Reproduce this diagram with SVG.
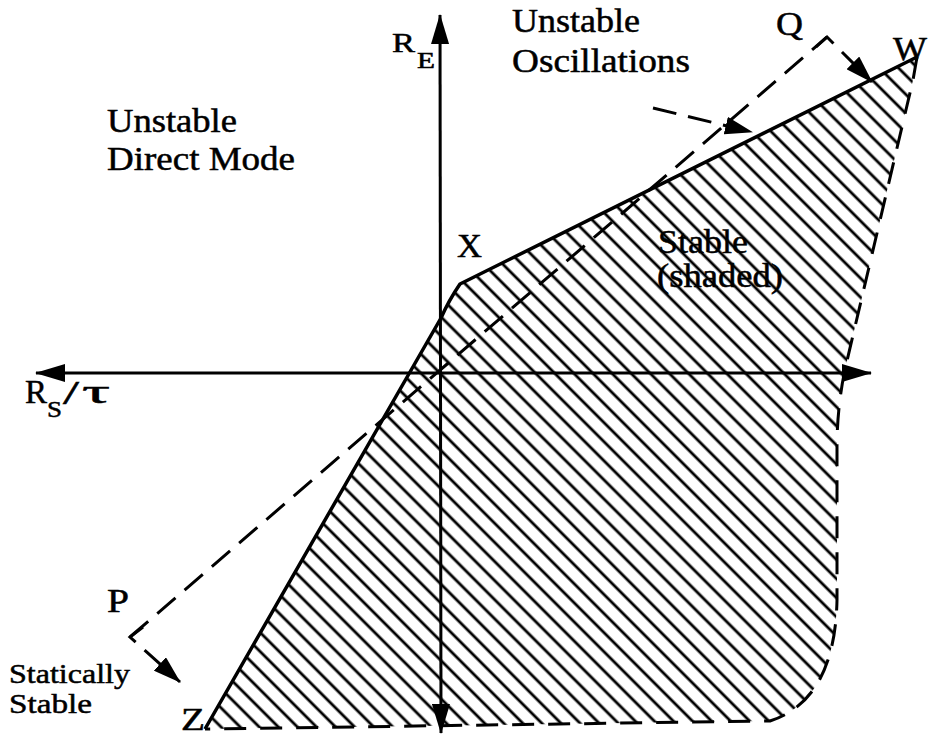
<svg xmlns="http://www.w3.org/2000/svg" width="928" height="736" viewBox="0 0 928 736">
<style>
text{font-family:"Liberation Serif","Times New Roman",serif;fill:#000;stroke:#000;stroke-width:0.5}
.lbl{font-size:33px}
.sm{font-size:28px}
.ax{stroke:#000;stroke-width:3;fill:none}
.solid{stroke:#000;stroke-width:3.5;fill:none;stroke-linejoin:round}
.dash{stroke:#000;stroke-width:3;fill:none;stroke-dasharray:24 12}
.bdash{stroke:#000;stroke-width:3;fill:none;stroke-dasharray:22 14}
</style>
<defs>
<pattern id="hatch" patternUnits="userSpaceOnUse" width="13.5" height="13.5" patternTransform="rotate(-45)">
<line x1="6.75" y1="-1" x2="6.75" y2="14.5" stroke="#000" stroke-width="2.8"/>
</pattern>
<marker id="ah" viewBox="0 0 30 18" refX="29" refY="9" markerWidth="30" markerHeight="18" orient="auto-start-reverse" markerUnits="userSpaceOnUse">
<path d="M0,0 L30,9 L0,18 z" fill="#000"/>
</marker>
<marker id="ahs" viewBox="0 0 28 18" refX="27" refY="9" markerWidth="28" markerHeight="18" orient="auto" markerUnits="userSpaceOnUse">
<path d="M0,0 L28,9 L0,18 z" fill="#000"/>
</marker>
</defs>
<rect width="928" height="736" fill="#fff"/>
<g id="stable-region">
<path d="M205,729 L441,318 Q449,300 460,284 L917,57 L913,80 L846,365 Q838,400 837,440 L837,600 Q835,700 770,721 Z" fill="url(#hatch)"/>
<path class="solid" d="M205,729 L441,318 Q449,300 460,284 L917,57"/>
<path class="bdash" d="M917,57 L913,80 L846,365 Q838,400 837,440 L837,600 Q835,700 770,721 L205,729"/>
</g>
<g id="axes">
<line class="ax" x1="36" y1="373" x2="871" y2="373" marker-start="url(#ah)" marker-end="url(#ah)"/>
<line class="ax" x1="440" y1="15" x2="441" y2="733" marker-start="url(#ah)" marker-end="url(#ah)"/>
</g>
<g id="connectors">
<path class="dash" d="M130,637 L827,37"/>
<path class="dash" d="M143,627 L130,637 L180,682" marker-end="url(#ahs)"/>
<path class="dash" d="M816,47 L827,37 L872,82" marker-end="url(#ahs)"/>
<path class="dash" d="M653,108 L752,132" marker-end="url(#ahs)"/>
</g>
<g id="labels">
<text class="lbl" x="512" y="32" textLength="128" lengthAdjust="spacingAndGlyphs">Unstable</text>
<text class="lbl" x="512" y="72" textLength="178" lengthAdjust="spacingAndGlyphs">Oscillations</text>
<text class="lbl" x="107" y="132" textLength="130" lengthAdjust="spacingAndGlyphs">Unstable</text>
<text class="lbl" x="107" y="170" textLength="188" lengthAdjust="spacingAndGlyphs">Direct Mode</text>
<text class="lbl" x="457" y="257" textLength="25" lengthAdjust="spacingAndGlyphs">X</text>
<text class="lbl" x="658" y="253" textLength="90" lengthAdjust="spacingAndGlyphs">Stable</text>
<text class="lbl" x="657" y="287" textLength="126" lengthAdjust="spacingAndGlyphs">(shaded)</text>
<text x="392" y="52" font-size="28" textLength="23" lengthAdjust="spacingAndGlyphs">R</text>
<text x="417" y="68" font-size="23" textLength="18" lengthAdjust="spacingAndGlyphs">E</text>
<text x="25" y="403" font-size="33" textLength="22" lengthAdjust="spacingAndGlyphs">R</text>
<text x="47" y="417" font-size="24" textLength="15" lengthAdjust="spacingAndGlyphs">S</text>
<text x="63" y="404" font-size="33" textLength="16" lengthAdjust="spacingAndGlyphs">/</text>
<text x="82" y="403" font-size="33" textLength="28" lengthAdjust="spacingAndGlyphs" stroke-width="0">τ</text>
<text class="lbl" x="776" y="35" textLength="27" lengthAdjust="spacingAndGlyphs">Q</text>
<text class="lbl" x="893" y="60" textLength="34" lengthAdjust="spacingAndGlyphs">W</text>
<text class="lbl" x="107" y="612" textLength="22" lengthAdjust="spacingAndGlyphs">P</text>
<text class="sm" x="9" y="683" textLength="121" lengthAdjust="spacingAndGlyphs">Statically</text>
<text class="sm" x="9" y="713" textLength="83" lengthAdjust="spacingAndGlyphs">Stable</text>
<text x="181" y="730" font-size="31" textLength="24" lengthAdjust="spacingAndGlyphs">Z</text>
</g>
</svg>
